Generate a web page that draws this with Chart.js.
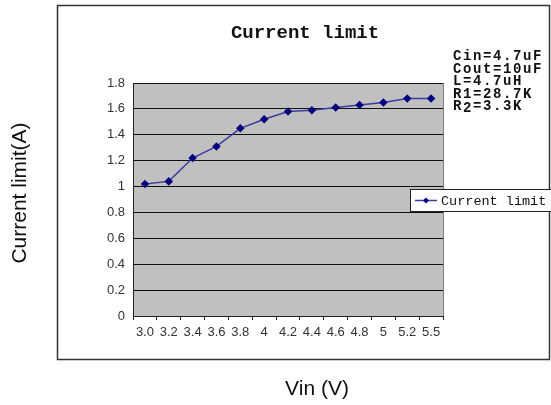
<!DOCTYPE html>
<html>
<head>
<meta charset="utf-8">
<script src="https://cdn.jsdelivr.net/npm/chart.js@4.4.1/dist/chart.umd.min.js"></script>
<style>
  html, body { margin:0; padding:0; background:#fff; }
  #wrap { width:551px; height:405px; position:relative; }
</style>
</head>
<body>
<div id="wrap"><canvas id="chart" width="551" height="405"></canvas></div>
<script>
// ----- Datos -----
const vinLabels = ['3.0','3.2','3.4','3.6','3.8','4','4.2','4.4','4.6','4.8','5','5.2','5.5'];
const currentLimit = [1.02,1.04,1.22,1.31,1.45,1.52,1.58,1.59,1.61,1.63,1.65,1.68,1.68];
const seriesName = 'Current limit';
const chartTitle = 'Current limit';
const notes = ['Cin=4.7uF','Cout=10uF','L=4.7uH','R1=28.7K','R2=3.3K'];
const yTitle = 'Current limit(A)';
const xTitle = 'Vin (V)';

const lineColor = '#3c3ca0';
const pointColor = '#000080';
const monoFont = '"Liberation Mono", "DejaVu Sans Mono", monospace';
const sansFont = '"Liberation Sans", Arial, sans-serif';

// ----- Fondo, marco y textos extra -----
const decor = {
  id:'decor',
  beforeDraw(chart){
    const {ctx, chartArea:a} = chart;
    ctx.save();
    ctx.fillStyle = '#fff';
    ctx.fillRect(0,0,chart.width,chart.height);
    ctx.strokeStyle = '#333';
    ctx.lineWidth = 1.5;
    ctx.strokeRect(57.5, 5.5, 492, 354);
    ctx.fillStyle = '#c0c0c0';
    ctx.fillRect(a.left, a.top, a.right-a.left, a.bottom-a.top);
    ctx.strokeStyle = '#808080';
    ctx.lineWidth = 1;
    ctx.strokeRect(a.left+0.5, a.top+0.5, a.right-a.left, a.bottom-a.top);
    ctx.restore();
  },
  afterDraw(chart){
    const {ctx} = chart;
    ctx.save();
    // título
    ctx.fillStyle = '#111';
    ctx.font = 'bold 19px ' + monoFont;
    ctx.textAlign = 'center';
    ctx.textBaseline = 'middle';
    ctx.fillText(chartTitle, 305, 33);

    // notas de componentes
    ctx.font = 'bold 14px ' + monoFont;
    ctx.textAlign = 'left';
    ctx.textBaseline = 'alphabetic';
    ctx.letterSpacing = '1.6px';
    notes.forEach((t,i)=>{
      const y = 60 + i*12.5;
      if(t.startsWith('R2')){
        ctx.fillText('R', 453, y);
        const w = ctx.measureText('R').width;
        ctx.fillText('2', 453+w, y+2);
        ctx.fillText(t.slice(2), 453+w*2, y);
      } else {
        ctx.fillText(t, 453, y);
      }
    });
    ctx.letterSpacing = '0px';

    // leyenda
    ctx.fillStyle = '#fff';
    ctx.fillRect(410, 189, 141, 22);
    ctx.strokeStyle = '#222';
    ctx.lineWidth = 1;
    ctx.strokeRect(410.5, 189.5, 141, 22);
    ctx.strokeStyle = lineColor;
    ctx.lineWidth = 1.5;
    ctx.beginPath(); ctx.moveTo(415, 200.5); ctx.lineTo(437, 200.5); ctx.stroke();
    ctx.fillStyle = pointColor;
    ctx.beginPath();
    ctx.moveTo(426, 197.5); ctx.lineTo(429, 200.5); ctx.lineTo(426, 203.5); ctx.lineTo(423, 200.5);
    ctx.closePath(); ctx.fill();
    ctx.fillStyle = '#111';
    ctx.font = '13.5px ' + monoFont;
    ctx.textBaseline = 'middle';
    ctx.fillText(seriesName, 441, 201);

    // títulos de ejes
    ctx.font = '21px ' + sansFont;
    ctx.textAlign = 'center';
    ctx.fillText(xTitle, 317, 389);
    ctx.translate(20, 193);
    ctx.rotate(-Math.PI/2);
    ctx.fillText(yTitle, 0, 0);
    ctx.restore();
  }
};

new Chart(document.getElementById('chart'),{
  type:'line',
  data:{
    labels: vinLabels,
    datasets:[{
      label: seriesName,
      data: currentLimit,
      borderColor: lineColor,
      borderWidth: 1.5,
      backgroundColor: pointColor,
      pointStyle: 'rectRot',
      pointRadius: 3.2,
      pointBackgroundColor: pointColor,
      pointBorderColor: pointColor,
      tension: 0
    }]
  },
  options:{
    responsive:false,
    animation:false,
    layout:{ padding:{ left:60, top:83, right:108, bottom:59 } },
    plugins:{ legend:{ display:false }, title:{ display:false }, tooltip:{ enabled:false } },
    scales:{
      x:{
        offset:true,
        grid:{ offset:true, drawOnChartArea:false, drawTicks:true, tickLength:4, color:'#222' },
        border:{ display:true, color:'#222', width:1 },
        ticks:{ color:'#333', font:{ family:sansFont, size:13 }, padding:5, maxRotation:0, autoSkip:false },
        afterFit(s){ s.height = 30; }
      },
      y:{
        min:0, max:1.8,
        ticks:{ stepSize:0.2, color:'#333', font:{ family:sansFont, size:13 }, padding:8,
          callback:(v)=> String(+v.toFixed(1)) },
        grid:{ color:'#111', lineWidth:1, drawTicks:false },
        border:{ display:true, color:'#222', width:1 },
        afterFit(s){ s.width = 73; }
      }
    }
  },
  plugins:[decor]
});
</script>
</body>
</html>
